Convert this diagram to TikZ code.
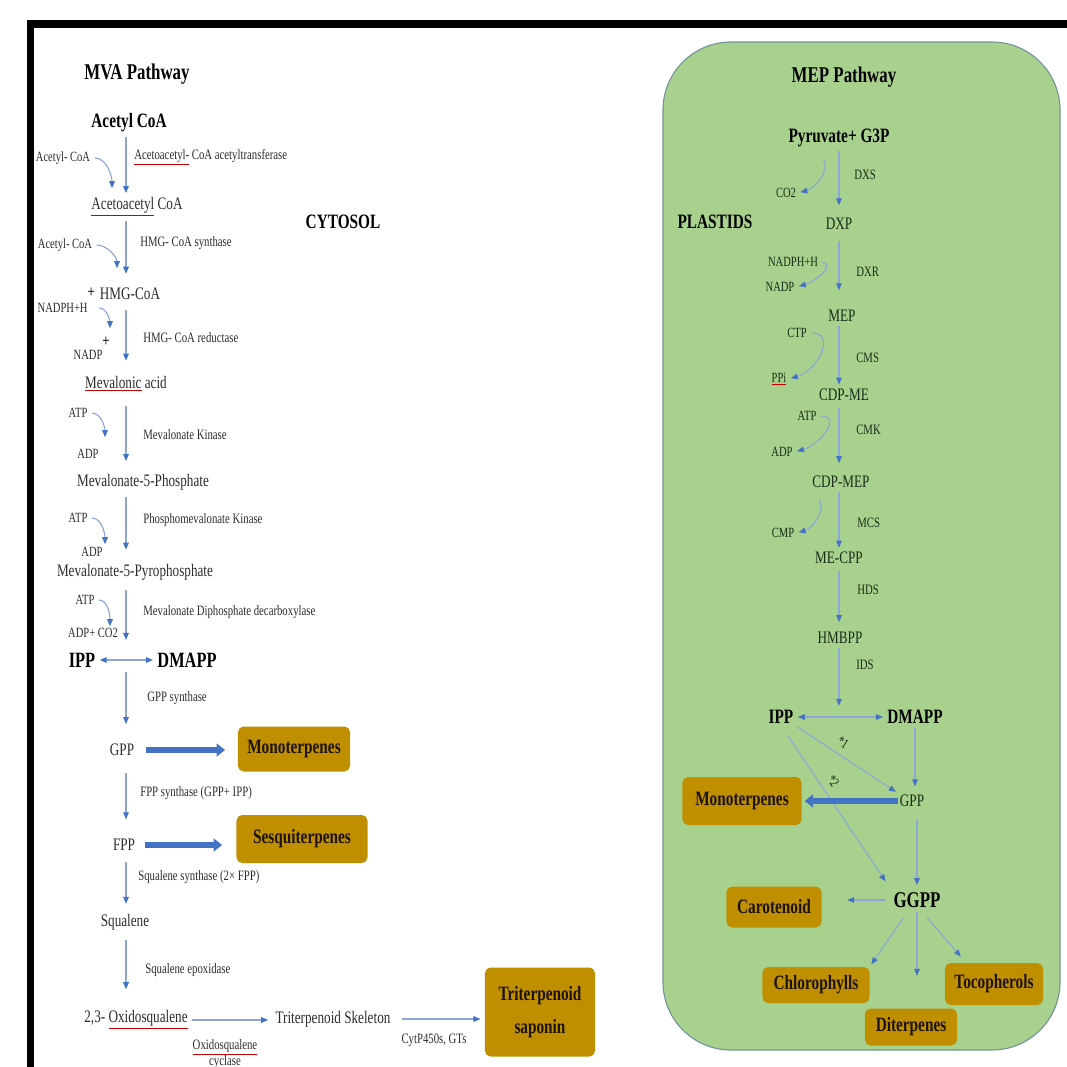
\documentclass[tikz,border=0pt]{standalone}
\usepackage{fontspec}
\setmainfont{Liberation Serif}[FakeStretch=0.75]
\usetikzlibrary{positioning,calc,arrows.meta}
\definecolor{plastid}{RGB}{169,209,142}
\definecolor{plastidrim}{RGB}{118,146,156}
\definecolor{gold}{RGB}{191,143,0}
\definecolor{flowblue}{RGB}{140,166,214}
\definecolor{headblue}{RGB}{68,114,196}
\definecolor{inkgrey}{RGB}{45,45,45}
\definecolor{leafink}{RGB}{25,45,25}
\newcommand{\spell}[1]{\colorlet{spellink}{.}{\color{red!80!black}\underline{\color{spellink}#1}}}
\newcommand{\fs}[1]{\fontsize{#1}{#1}\selectfont}

\begin{document}
\begin{tikzpicture}[x=0.025cm, y=-0.025cm,
  title/.style={font=\bfseries\fs{16}, text=black},
  hub/.style={font=\bfseries\fs{14.5}, text=black, inner sep=1pt},
  met/.style={font=\fs{12.5}, text=inkgrey, inner sep=1pt},
  enz/.style={font=\fs{10.2}, text=inkgrey, anchor=west, inner sep=0pt},
  cof/.style={font=\fs{10}, text=inkgrey, inner sep=1pt},
  leaf/.style={text=leafink},
  prod/.style={fill=gold, rounded corners=4pt, font=\bfseries\fs{14.5}, text=black!85!brown, align=center, inner sep=2pt},
  flow/.style={draw=flowblue, line width=0.8pt, shorten <=2pt, shorten >=2pt, -{Triangle[length=5pt,width=4pt,color=headblue]}},
  eqflow/.style={flow, {Triangle[length=5pt,width=4pt,color=headblue]}-{Triangle[length=5pt,width=4pt,color=headblue]}},
  bigflow/.style={draw=headblue, line width=3.6pt, -{Triangle[length=6pt,width=9pt]}}]

\useasboundingbox (0,0) rectangle (1067,1067);
\fill[white] (0,0) rectangle (1067,1067);
\fill[black] (27,20) rectangle (1067,28);
\fill[black] (27,20) rectangle (34,1067);
\draw[plastidrim, fill=plastid, line width=0.8pt, rounded corners=1.7cm] (663,42) rectangle (1060,1050);

\node[title] (mva) at (137,74) {MVA Pathway};
\node[hub] (acoa) at (129,123) {Acetyl CoA};
\node[cof] (acin1) at (63,158) {Acetyl- CoA};
\node[enz] (e1) at (134,157) {\spell{Acetoacetyl-} CoA acetyltransferase};
\node[met] (aacoa) at (137,207) {\spell{Acetoacetyl} CoA};
\node[hub] (cyto) at (343,222) {CYTOSOL};
\node[cof] (acin2) at (65,245) {Acetyl- CoA};
\node[enz] (e2) at (140,243) {HMG- CoA synthase};
\node[met] (hmg) at (130,294) {HMG-CoA};
\node[cof, anchor=west] (nadph) at (36,308) {NADPH+H\smash{\raisebox{2.4ex}{\bfseries\fs{12}+}}};
\node[cof, anchor=west] (nadp) at (72,355) {NADP\smash{\raisebox{2ex}{\bfseries\fs{12}+}}};
\node[enz] (e3) at (143,338) {HMG- CoA reductase};
\node[met] (meva) at (126,384) {\spell{Mevalonic} acid};
\node[cof] (atp1) at (78,413) {ATP};
\node[cof] (adp1) at (88,454) {ADP};
\node[enz] (e4) at (143,435) {Mevalonate Kinase};
\node[met] (mvp) at (143,482) {Mevalonate-5-Phosphate};
\node[cof] (atp2) at (78,518) {ATP};
\node[enz] (e5) at (143,520) {Phosphomevalonate Kinase};
\node[cof] (adp2) at (92,552) {ADP};
\node[met] (mvpp) at (135,572) {Mevalonate-5-Pyrophosphate};
\node[cof] (atp3) at (85,600) {ATP};
\node[cof] (adp3) at (93,633) {ADP+ CO2};
\node[enz] (e6) at (143,612) {Mevalonate Diphosphate decarboxylase};
\node[hub, font=\bfseries\fs{15.5}] (ipp1) at (82,660) {IPP};
\node[hub, font=\bfseries\fs{15.5}] (dma1) at (187,660) {DMAPP};
\node[enz] (e7) at (147,698) {GPP synthase};
\node[met] (gpp1) at (122,750) {GPP};
\node[prod, minimum width=2.8cm, minimum height=1.125cm] (mono1) at (294,749) {Monoterpenes};
\node[enz] (e8) at (140,793) {FPP synthase (GPP+ IPP)};
\node[met] (fpp) at (124,845) {FPP};
\node[prod, minimum width=3.275cm, minimum height=1.2cm] (sesq) at (302,839) {Sesquiterpenes};
\node[enz] (e9) at (138,877) {Squalene synthase (2× FPP)};
\node[met] (sq) at (125,922) {Squalene};
\node[enz] (e10) at (145,970) {Squalene epoxidase};
\node[met] (oxsq) at (136,1020) {2,3- \spell{Oxidosqualene}};
\node[enz, anchor=center, align=center, font=\fontsize{10.2}{11.5}\selectfont] (e11) at (225,1054) {\spell{Oxidosqualene}\\cyclase};
\node[met] (tts) at (333,1019) {Triterpenoid Skeleton};
\node[enz, anchor=center] (e12) at (434,1040) {CytP450s, GTs};
\node[prod, minimum width=2.75cm, minimum height=2.225cm, font=\bfseries\fontsize{14.5}{24}\selectfont] (sapo) at (540,1012) {Triterpenoid\\saponin};

\node[title] (mep) at (844,77) {MEP Pathway};
\node[hub] (pyr) at (839,138) {Pyruvate+ G3P};
\node[enz, leaf] (dxs) at (854,175) {DXS};
\node[cof, leaf] (co2) at (786,193) {CO2};
\node[hub] (plas) at (715,222) {PLASTIDS};
\node[met, leaf] (dxp) at (839,224) {DXP};
\node[cof, leaf] (nadph2) at (793,262) {NADPH+H};
\node[cof, leaf] (nadp2) at (780,287) {NADP};
\node[enz, leaf] (dxr) at (856,272) {DXR};
\node[met, leaf] (mepn) at (842,316) {MEP};
\node[cof, leaf] (ctp) at (797,333) {CTP};
\node[cof, leaf] (ppi) at (779,379) {\spell{PPi}};
\node[enz, leaf] (cms) at (856,358) {CMS};
\node[met, leaf] (cdpme) at (844,395) {CDP-ME};
\node[cof, leaf] (atp4) at (807,416) {ATP};
\node[cof, leaf] (adp4) at (782,452) {ADP};
\node[enz, leaf] (cmk) at (856,430) {CMK};
\node[met, leaf] (cdpmep) at (841,482) {CDP-MEP};
\node[cof, leaf] (cmp) at (783,533) {CMP};
\node[enz, leaf] (mcs) at (857,523) {MCS};
\node[met, leaf] (mecpp) at (839,558) {ME-CPP};
\node[enz, leaf] (hds) at (857,590) {HDS};
\node[met, leaf] (hmbpp) at (840,638) {HMBPP};
\node[enz, leaf] (ids) at (856,665) {IDS};
\node[hub] (ipp2) at (781,717) {IPP};
\node[hub] (dma2) at (915,717) {DMAPP};
\node[met, leaf] (gpp2) at (912,801) {GPP};
\node[prod, minimum width=2.975cm, minimum height=1.2cm] (mono2) at (742,801) {Monoterpenes};
\node[hub, font=\bfseries\fs{16}] (ggpp) at (917,900) {GGPP};
\node[prod, minimum width=2.375cm, minimum height=1.025cm] (caro) at (774,907) {Carotenoid};
\node[prod, minimum width=2.675cm, minimum height=0.9cm] (chl) at (816,985) {Chlorophylls};
\node[prod, minimum width=2.45cm, minimum height=1.05cm] (toco) at (994,984) {Tocopherols};
\node[prod, minimum width=2.3cm, minimum height=0.925cm] (dit) at (911,1027) {Diterpenes};

\coordinate (mvax) at (126,0);
\coordinate (mepx) at (839,0);
\coordinate (k1) at (112,191);
\coordinate (k2) at (117,271);
\coordinate (k3) at (110,331);
\coordinate (k4) at (105,440);
\coordinate (k5) at (105,547);
\coordinate (k6) at (110,629);
\coordinate (q1) at (822,157);
\coordinate (q5) at (818,497);

\draw[flow] (acoa.south -| mvax) -- (aacoa.north -| mvax);
\draw[flow, shorten >=9pt] (aacoa.south -| mvax) -- (hmg.north -| mvax);
\draw[flow, shorten <=6pt, shorten >=10pt] (hmg.south -| mvax) -- (meva.north -| mvax);
\draw[flow, shorten <=9pt, shorten >=8pt] (meva.south -| mvax) -- (mvp.north -| mvax);
\draw[flow, shorten <=4pt, shorten >=9pt] (mvp.south -| mvax) -- (mvpp.north -| mvax);
\draw[flow, shorten <=6pt, shorten >=8pt] (mvpp.south -| mvax) -- (ipp1.north -| mvax);
\draw[flow, shorten >=13pt] (ipp1.south -| mvax) -- (gpp1.north -| mvax);
\draw[flow, shorten <=11pt, shorten >=13pt] (gpp1.south -| mvax) -- (fpp.north -| mvax);
\draw[flow, shorten <=7pt, shorten >=6pt] (fpp.south -| mvax) -- (sq.north -| mvax);
\draw[flow, shorten <=6pt, shorten >=14pt] (sq.south -| mvax) -- (oxsq.north -| mvax);

\draw[flow] (acin1.east) to[out=0, in=90] (k1);
\draw[flow] (acin2.east) to[out=0, in=90] (k2);
\draw[flow] (nadph.east) to[out=0, in=90] (k3);
\draw[flow] (atp1.east) to[out=0, in=90] (k4);
\draw[flow] (atp2.east) to[out=0, in=90] (k5);
\draw[flow] (atp3.east) to[out=0, in=90] (k6);

\draw[eqflow] (ipp1.east) -- (dma1.west);
\draw[bigflow, shorten <=7pt, shorten >=9pt] (gpp1.east) -- (gpp1.east -| mono1.west);
\draw[bigflow, shorten <=6pt, shorten >=10pt] (fpp.east) -- (fpp.east -| sesq.west);
\draw[flow, shorten >=4pt] (oxsq.east) -- (oxsq.east -| tts.west);
\draw[flow, shorten <=7pt, shorten >=3pt] (tts.east) -- (tts.east -| sapo.west);

\draw[flow, shorten >=8pt] (pyr.south -| mepx) -- (dxp.north -| mepx);
\draw[flow, shorten <=7pt, shorten >=13pt] (dxp.south -| mepx) -- (mepn.north -| mepx);
\draw[flow] (mepn.south -| mepx) -- (cdpme.north -| mepx);
\draw[flow, shorten <=4pt, shorten >=8pt] (cdpme.south -| mepx) -- (cdpmep.north -| mepx);
\draw[flow] (cdpmep.south -| mepx) -- (mecpp.north -| mepx);
\draw[flow, shorten <=4pt, shorten >=6pt] (mecpp.south -| mepx) -- (hmbpp.north -| mepx);
\draw[flow] (hmbpp.south -| mepx) -- (ipp2.north -| mepx);

\draw[flow] (q1) to[out=-60, in=15] (co2.east);
\draw[flow] (nadph2.east) to[out=-10, in=15, looseness=1.3] (nadp2.east);
\draw[flow] (ctp.east) to[out=0, in=15, looseness=1.5] (ppi.east);
\draw[flow] (atp4.east) to[out=0, in=15, looseness=1.5] (adp4.east);
\draw[flow] (q5) to[out=-60, in=15] (cmp.east);

\draw[eqflow] (ipp2.east) -- (dma2.west);
\draw[flow, shorten >=5pt] (dma2.south) -- (dma2.south |- gpp2.north);
\draw[flow] (ipp2.south east) -- node[pos=.4, above=5pt, sloped, font=\fs{10}, leaf, inner sep=0pt] {*1} (gpp2.north west);
\draw[flow, shorten <=9pt, shorten >=8pt] (ipp2.south) -- node[pos=.38, above=5pt, sloped, font=\fs{10}, leaf, inner sep=0pt] {*2} (ggpp.north west);
\draw[bigflow, shorten <=0pt, shorten >=2pt] (gpp2.west) -- (gpp2.west -| mono2.east);
\draw[flow, shorten <=8pt, shorten >=4pt] (ggpp.north |- gpp2.south) -- (ggpp.north);
\draw[flow, shorten <=5pt, shorten >=18pt] (ggpp.west) -- (ggpp.west -| caro.east);
\draw[flow] ($(ggpp.south)+(-12,6)$) -- (chl.north east);
\draw[flow, shorten >=23pt] (ggpp.south) -- (ggpp.south |- dit.north);
\draw[flow] ($(ggpp.south)+(8,6)$) -- ($(toco.north west)+(18,-4)$);
\end{tikzpicture}
\end{document}
